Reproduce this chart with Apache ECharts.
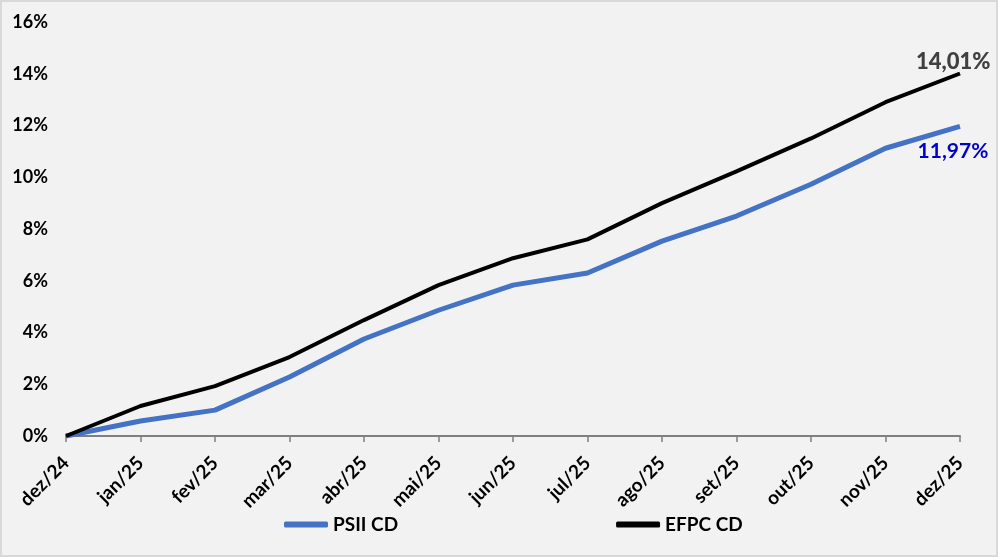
<!DOCTYPE html>
<html>
<head>
<meta charset="utf-8">
<script src="https://cdn.jsdelivr.net/npm/echarts@6/dist/echarts.min.js"></script>
<style>
html,body{margin:0;padding:0;background:#f2f2f2;}
#c{width:998px;height:557px;box-sizing:border-box;border:2px solid #d9d9d9;background:#f2f2f2;}
</style>
</head>
<body>
<div id="c"></div>
<script>
const categories = ['dez/24','jan/25','fev/25','mar/25','abr/25','mai/25','jun/25','jul/25','ago/25','set/25','out/25','nov/25','dez/25'];
const psiiCD = [0, 0.58, 1.00, 2.28, 3.75, 4.86, 5.83, 6.30, 7.53, 8.50, 9.73, 11.12, 11.97];
const efpcCD = [0, 1.16, 1.93, 3.05, 4.48, 5.83, 6.87, 7.60, 9.00, 10.23, 11.50, 12.90, 14.01];
const yTicks = [0, 2, 4, 6, 8, 10, 12, 14, 16];

const FONT = 'Lato, "Open Sans", sans-serif';
const fmt = v => v.toFixed(2).replace('.', ',') + '%';
const last = categories.length - 1;

const chart = echarts.init(document.getElementById('c'));
chart.setOption({
  backgroundColor: '#f2f2f2',
  animation: false,
  grid: {left: 64, right: 36, top: 20, bottom: 119},
  legend: {
    bottom: 16, left: 277, itemGap: 218, itemWidth: 44, itemHeight: 6,
    icon: 'roundRect',
    textStyle: {fontFamily: FONT, fontWeight: 'bold', fontSize: 19, color: '#000'},
    data: ['PSII CD', 'EFPC CD']
  },
  xAxis: {
    type: 'category', data: categories, boundaryGap: false,
    axisLine: {show: true, lineStyle: {color: '#7f7f7f', width: 2}},
    axisTick: {show: true, length: 6, lineStyle: {color: '#7f7f7f', width: 1.5}},
    axisLabel: {rotate: 45, interval: 0, margin: 24, color: '#000', fontWeight: 'bold', fontSize: 19, fontFamily: FONT}
  },
  yAxis: {
    type: 'value', min: yTicks[0], max: yTicks[yTicks.length - 1], interval: 2,
    axisLine: {show: false}, axisTick: {show: false}, splitLine: {show: false},
    axisLabel: {formatter: v => v + '%', margin: 18, color: '#000', fontWeight: 'bold', fontSize: 18, fontFamily: FONT}
  },
  series: [
    {name: 'PSII CD', type: 'line', data: psiiCD,
     symbol: 'circle', symbolSize: 0, showSymbol: true,
     label: {show: true, position: 'bottom', offset: [-7, 9],
       formatter: p => p.dataIndex === last ? fmt(p.value) : '',
       color: '#0000cc', fontWeight: 'bold', fontSize: 21, fontFamily: FONT},
     lineStyle: {color: '#4472c4', width: 5}, itemStyle: {color: '#4472c4'}},
    {name: 'EFPC CD', type: 'line', data: efpcCD,
     symbol: 'none',
     endLabel: {show: true, formatter: p => fmt(p.value), offset: [-52, -12],
       color: '#404040', fontWeight: 900, fontSize: 22, fontFamily: FONT},
     lineStyle: {color: '#000', width: 4}, itemStyle: {color: '#000'}}
  ]
});
</script>
</body>
</html>
